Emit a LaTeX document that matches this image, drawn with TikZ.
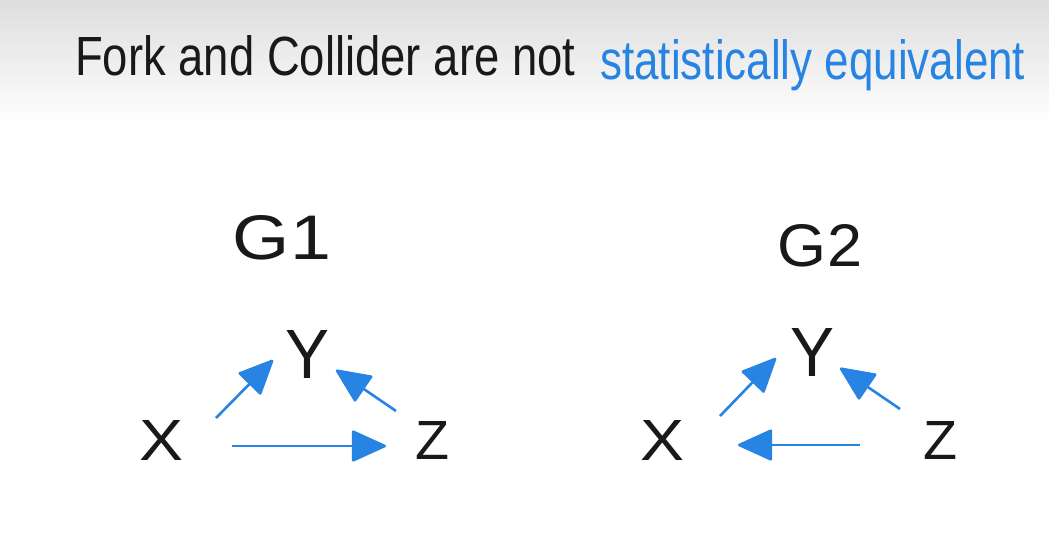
\documentclass[tikz,border=0pt]{standalone}
\usepackage{fontspec}
\setmainfont{Liberation Sans}
\usetikzlibrary{arrows.meta}
\definecolor{pen}{RGB}{40,132,226}
\definecolor{ink}{RGB}{25,25,25}
\tikzset{
  lab/.style={inner sep=0pt, text=ink},
  arr/.style={pen, line width=2.6pt, -{Triangle[length=36pt,width=32pt,round]}},
}
\newcommand{\rb}[3]{\resizebox{#1pt}{#2pt}{#3}}
\begin{document}
\begin{tikzpicture}[x=1pt,y=-1pt]
\useasboundingbox (0,0) rectangle (1049,543);
\fill[white] (0,0) rectangle (1049,543);
\shade[top color=black!13, bottom color=white] (0,0) rectangle (1049,125);
% title
\node[lab, anchor=base west] (t1) at (75,76) {\rb{500}{40}{Fork and Collider are not}};
\node[lab, anchor=base west, text=pen] (t2) at (600,80) {\rb{425}{40}{statistically equivalent}};
% G1
\node[lab] (g1) at (282,238) {\rb{98}{44}{G1}};
\node[lab] (X1) at (162,440) {\rb{44}{40}{X}};
\node[lab] (Y1) at (308,354) {\rb{44}{48}{Y}};
\node[lab] (Z1) at (433,440) {\rb{34}{38}{Z}};
\draw[arr] ([shift={(54,-22)}]X1.center) -- ([shift={(-35,6)}]Y1.center);
\draw[arr] ([shift={(-37,-29)}]Z1.center) -- ([shift={(28,16)}]Y1.center);
\draw[arr] ([shift={(70,6)}]X1.center) -- ([shift={(-47,6)}]Z1.center);
% G2
\node[lab] (g2) at (820,246) {\rb{84}{42}{G2}};
\node[lab] (X2) at (662,440) {\rb{44}{40}{X}};
\node[lab] (Y2) at (812,352) {\rb{44}{48}{Y}};
\node[lab] (Z2) at (940,440) {\rb{34}{38}{Z}};
\draw[arr] ([shift={(58,-24)}]X2.center) -- ([shift={(-36,6)}]Y2.center);
\draw[arr] ([shift={(-40,-31)}]Z2.center) -- ([shift={(28,16)}]Y2.center);
\draw[arr] ([shift={(-80,5)}]Z2.center) -- ([shift={(76,5)}]X2.center);
\end{tikzpicture}
\end{document}
